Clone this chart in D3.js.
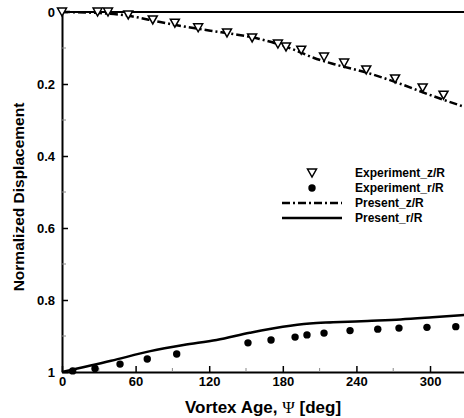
<!DOCTYPE html>
<html>
<head>
<meta charset="utf-8">
<script src="https://cdn.jsdelivr.net/npm/d3@7"></script>
<style>
  html, body { margin: 0; padding: 0; background: #fff; }
  svg { display: block; }
  text { font-family: "Liberation Sans", Arial, sans-serif; font-weight: bold; fill: #000; }
</style>
</head>
<body>
<svg id="chart" width="464" height="418"></svg>
<script>
// Experiment z/R (triangles): vortex age [deg], normalized displacement
const expZpsi = [0, 29, 37.5, 54, 74, 92, 111, 134.5, 155, 176, 182.6, 195, 213.6, 230, 248, 271.5, 294, 311];
const expZval = [0, 0, 0, 0.008, 0.022, 0.031, 0.044, 0.058, 0.072, 0.089, 0.097, 0.106, 0.125, 0.142, 0.161, 0.186, 0.211, 0.231];

// Experiment r/R (circles)
const expRpsi = [8.7, 26.9, 47.3, 69.5, 93.5, 151.6, 170.4, 190, 199.7, 213.6, 234.8, 257.4, 274.7, 297.5, 321];
const expRval = [0.997, 0.990, 0.978, 0.964, 0.950, 0.919, 0.911, 0.903, 0.897, 0.892, 0.885, 0.881, 0.878, 0.876, 0.874];

// Present z/R (dash-dot curve)
const preZpsi = [0, 31, 55, 80, 99, 121, 143, 161, 175, 190, 205, 222, 248, 273, 298, 330];
const preZval = [0, 0.003, 0.011, 0.028, 0.040, 0.052, 0.063, 0.075, 0.088, 0.106, 0.127, 0.145, 0.168, 0.196, 0.228, 0.266];

// Present r/R (solid curve)
const preRpsi = [0, 40, 72, 99, 126, 153, 180, 202, 221, 249, 276, 302, 330];
const preRval = [1.0, 0.969, 0.942, 0.925, 0.911, 0.891, 0.874, 0.865, 0.862, 0.858, 0.854, 0.848, 0.841];

const xTicks = [0, 60, 120, 180, 240, 300];
const xMinor = [30, 90, 150, 210, 270];
const yTicks = [0, 0.2, 0.4, 0.6, 0.8, 1];
const yMinor = [0.1, 0.3, 0.5, 0.7, 0.9];
const legendLabels = ["Experiment_z/R", "Experiment_r/R", "Present_z/R", "Present_r/R"];

const svg = d3.select("#chart");
const mLeft = 62, mRight = 464, mTop = 12, mBottom = 372;

const x = d3.scaleLinear().domain([0, 327.7]).range([mLeft, mRight]);
const y = d3.scaleLinear().domain([0, 1]).range([mTop, mBottom]);

svg.append("defs").append("clipPath").attr("id", "plotclip")
  .append("rect").attr("x", mLeft - 8).attr("y", mTop - 8)
  .attr("width", mRight - mLeft + 8).attr("height", mBottom - mTop + 16);

// axes
const xAxis = svg.append("g").attr("transform", `translate(0,${mBottom})`)
  .call(d3.axisBottom(x).tickValues(xTicks).tickSizeInner(-6).tickSizeOuter(0).tickPadding(8).tickFormat(d3.format("d")));
const yAxis = svg.append("g").attr("transform", `translate(${mLeft},0)`)
  .call(d3.axisLeft(y).tickValues(yTicks).tickSizeInner(-6).tickSizeOuter(0).tickPadding(7)
    .tickFormat(d => d === 0 ? "0" : d === 1 ? "1" : d3.format(".1f")(d)));
[xAxis, yAxis].forEach(g => {
  g.select(".domain").attr("stroke", "#000").attr("stroke-width", 2);
  g.selectAll(".tick line").attr("stroke", "#000").attr("stroke-width", 1.5);
  g.selectAll(".tick text").attr("font-size", 13).attr("font-family", "Liberation Sans, Arial, sans-serif").attr("font-weight", "bold");
});
xAxis.selectAll(".tick text").attr("dy", "0.45em");

// minor ticks
svg.append("g").selectAll("line").data(xMinor).join("line")
  .attr("x1", d => x(d)).attr("x2", d => x(d)).attr("y1", mBottom).attr("y2", mBottom - 4)
  .attr("stroke", "#888").attr("stroke-width", 1);
svg.append("g").selectAll("line").data(yMinor).join("line")
  .attr("x1", mLeft).attr("x2", mLeft + 4).attr("y1", d => y(d)).attr("y2", d => y(d))
  .attr("stroke", "#888").attr("stroke-width", 1);

// top frame line
svg.append("line").attr("x1", mLeft).attr("x2", mRight).attr("y1", mTop).attr("y2", mTop)
  .attr("stroke", "#000").attr("stroke-width", 2);

const plot = svg.append("g").attr("clip-path", "url(#plotclip)");
const line = d3.line().curve(d3.curveMonotoneX).x(d => x(d[0])).y(d => y(d[1]));

plot.append("path").datum(d3.zip(preZpsi, preZval)).attr("d", line)
  .attr("fill", "none").attr("stroke", "#000").attr("stroke-width", 2.5)
  .attr("stroke-dasharray", "8,3,2,3");
plot.append("path").datum(d3.zip(preRpsi, preRval)).attr("d", line)
  .attr("fill", "none").attr("stroke", "#000").attr("stroke-width", 2.5);

const tri = "M-4.5,-4 L4.5,-4 L0,4 Z";
plot.append("g").selectAll("path").data(d3.zip(expZpsi, expZval)).join("path")
  .attr("transform", d => `translate(${x(d[0])},${y(d[1])})`)
  .attr("d", tri).attr("fill", "#fff").attr("stroke", "#000").attr("stroke-width", 1.5);
plot.append("g").selectAll("circle").data(d3.zip(expRpsi, expRval)).join("circle")
  .attr("cx", d => x(d[0])).attr("cy", d => y(d[1])).attr("r", 3.7).attr("fill", "#000");

// axis titles
svg.append("text").attr("x", 263).attr("y", 413).attr("text-anchor", "middle").attr("font-size", 17)
  .html('Vortex Age, <tspan font-family="Liberation Serif, serif" font-weight="normal">Ψ</tspan> [deg]');
svg.append("text").attr("transform", "translate(24,197) rotate(-90)").attr("text-anchor", "middle")
  .attr("font-size", 15.5).text("Normalized Displacement");

// legend
const lg = svg.append("g");
const rowY = [173, 188, 203, 218];
lg.append("path").attr("transform", `translate(312,${rowY[0]})`).attr("d", tri)
  .attr("fill", "#fff").attr("stroke", "#000").attr("stroke-width", 1.5);
lg.append("circle").attr("cx", 312).attr("cy", rowY[1]).attr("r", 3.7).attr("fill", "#000");
lg.append("line").attr("x1", 282).attr("x2", 342).attr("y1", rowY[2]).attr("y2", rowY[2])
  .attr("stroke", "#000").attr("stroke-width", 2.5).attr("stroke-dasharray", "8,3,2,3");
lg.append("line").attr("x1", 282).attr("x2", 342).attr("y1", rowY[3]).attr("y2", rowY[3])
  .attr("stroke", "#000").attr("stroke-width", 2.5);
lg.selectAll("text").data(legendLabels).join("text")
  .attr("x", 355).attr("y", (d, i) => rowY[i]).attr("dy", "0.35em").attr("font-size", 12).text(d => d);
</script>
</body>
</html>
